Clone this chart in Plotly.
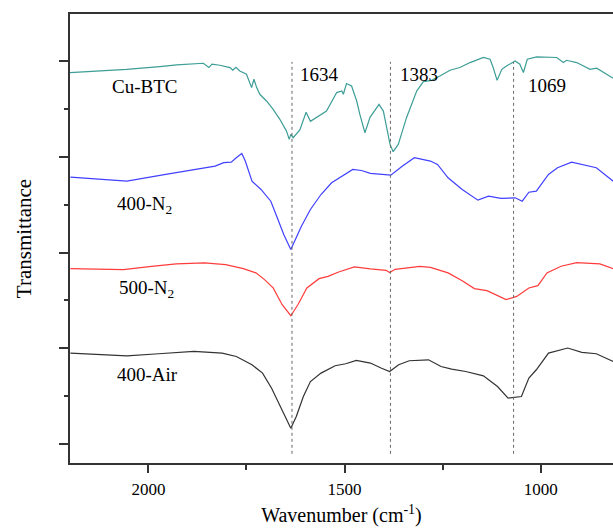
import plotly.graph_objects as go

# ---- data (wavenumber in cm^-1, transmittance in offset arbitrary units) ----
cu_btc_w = [2200, 2056, 1971, 1928, 1860, 1846, 1838, 1818, 1792, 1785, 1777, 1767, 1750, 1737,
            1731, 1724, 1716, 1699, 1682, 1673, 1665, 1648, 1641, 1637, 1631, 1614, 1598, 1587,
            1546, 1520, 1507, 1503, 1495, 1482, 1469, 1461, 1448, 1435, 1422, 1412, 1401, 1392,
            1384, 1376, 1363, 1342, 1316, 1299, 1278, 1257, 1231, 1206, 1180, 1146, 1129, 1121,
            1111, 1099, 1087, 1065, 1053, 1044, 1034, 1010, 959, 942, 934, 908, 874, 857, 815]
cu_btc_t = [3.879, 3.913, 3.941, 3.958, 3.976, 3.931, 3.966, 3.955, 3.931, 3.903, 3.934, 3.895,
            3.861, 3.722, 3.809, 3.722, 3.652, 3.582, 3.495, 3.443, 3.391, 3.268, 3.181, 3.234,
            3.199, 3.281, 3.464, 3.370, 3.477, 3.670, 3.686, 3.652, 3.764, 3.739, 3.582, 3.443,
            3.251, 3.411, 3.495, 3.547, 3.477, 3.307, 3.129, 3.053, 3.129, 3.408, 3.686, 3.785,
            3.798, 3.843, 3.903, 3.931, 3.983, 4.036, 4.018, 3.931, 3.798, 3.913, 3.948, 4.000,
            3.966, 3.879, 4.018, 4.042, 4.036, 3.983, 4.007, 3.983, 3.913, 3.924, 3.819]

n400_w = [2199, 2055, 1956, 1866, 1830, 1808, 1789, 1776, 1762, 1753, 1736, 1713, 1688, 1673,
          1655, 1637, 1627, 1610, 1587, 1560, 1533, 1506, 1479, 1457, 1434, 1382, 1353, 1322,
          1281, 1263, 1236, 1200, 1160, 1133, 1101, 1065, 1047, 1030, 1011, 980, 957, 921, 895,
          858, 815]
n400_t = [2.787, 2.745, 2.816, 2.878, 2.902, 2.938, 2.944, 2.990, 3.035, 2.955, 2.745, 2.659,
          2.536, 2.380, 2.188, 2.031, 2.118, 2.275, 2.450, 2.606, 2.729, 2.798, 2.868, 2.857,
          2.826, 2.808, 2.902, 2.990, 2.955, 2.920, 2.781, 2.659, 2.547, 2.589, 2.565, 2.572,
          2.536, 2.630, 2.641, 2.816, 2.886, 2.944, 2.920, 2.886, 2.745]

n500_w = [2199, 2064, 1992, 1929, 1857, 1803, 1758, 1726, 1704, 1682, 1659, 1637, 1619, 1596,
          1565, 1542, 1515, 1475, 1434, 1394, 1385, 1371, 1308, 1281, 1236, 1200, 1169, 1137,
          1088, 1061, 1030, 1007, 984, 948, 908, 849, 815]
n500_t = [1.833, 1.822, 1.857, 1.882, 1.892, 1.875, 1.833, 1.788, 1.718, 1.631, 1.456, 1.341,
          1.456, 1.631, 1.728, 1.752, 1.798, 1.851, 1.830, 1.815, 1.791, 1.825, 1.857, 1.846,
          1.788, 1.707, 1.624, 1.603, 1.509, 1.543, 1.631, 1.655, 1.788, 1.857, 1.895, 1.882,
          1.833]

air400_w = [2199, 2055, 1974, 1884, 1812, 1776, 1736, 1709, 1686, 1663, 1650, 1637, 1623, 1605,
            1587, 1560, 1524, 1497, 1470, 1434, 1407, 1385, 1362, 1335, 1286, 1254, 1227, 1191,
            1146, 1110, 1083, 1065, 1049, 1030, 1011, 980, 931, 895, 858, 815]
air400_t = [0.951, 0.923, 0.944, 0.968, 0.951, 0.916, 0.829, 0.742, 0.585, 0.393, 0.289, 0.167,
            0.289, 0.498, 0.654, 0.742, 0.819, 0.840, 0.874, 0.847, 0.795, 0.759, 0.829, 0.871,
            0.881, 0.811, 0.784, 0.759, 0.714, 0.602, 0.481, 0.491, 0.498, 0.690, 0.777, 0.951,
            1.004, 0.958, 0.944, 0.864]

marker_peaks = [1634, 1383, 1069]
marker_labels = ["1634", "1383", "1069"]
series_names = ["Cu-BTC", "400-N<sub>2</sub>", "500-N<sub>2</sub>", "400-Air"]

FONT = "Liberation Serif, Times New Roman, serif"
AX = "#333333"

fig = go.Figure()
series = [
    (cu_btc_w, cu_btc_t, "#3c9e96", series_names[0]),
    (n400_w, n400_t, "#4040ff", series_names[1]),
    (n500_w, n500_t, "#ff3c3c", series_names[2]),
    (air400_w, air400_t, "#333333", series_names[3]),
]
for w, t, c, n in series:
    fig.add_trace(go.Scatter(x=w, y=t, mode="lines", name=n,
                             line=dict(color=c, width=1.2), showlegend=False))

# dotted reference lines
for p in marker_peaks:
    fig.add_shape(type="line", xref="x", yref="y", x0=p, x1=p, y0=-0.10, y1=3.99,
                  line=dict(color="#666666", width=1, dash="dot"))

# peak labels
peak_pos = [(1619, 3.86), (1364, 3.86), (1038, 3.74)]
for (x, y), lab in zip(peak_pos, marker_labels):
    fig.add_annotation(x=x, y=y, xref="x", yref="y", text=lab, showarrow=False,
                       xanchor="left", yanchor="middle",
                       font=dict(family=FONT, size=19, color="black"))

# series labels
name_pos = [(2011, 3.73), (2011, 2.50), (2005, 1.62), (2002, 0.725)]
for (x, y), lab in zip(name_pos, series_names):
    fig.add_annotation(x=x, y=y, xref="x", yref="y", text=lab, showarrow=False,
                       xanchor="center", yanchor="middle",
                       font=dict(family=FONT, size=19, color="black"))

fig.update_layout(
    width=613, height=530,
    margin=dict(l=70, r=0, t=14, b=67),
    paper_bgcolor="white", plot_bgcolor="white",
    font=dict(family=FONT, color="black"),
    xaxis=dict(
        range=[2200, 815.5], autorange=False, automargin=False,
        tick0=0, dtick=500, ticks="outside", ticklen=8, tickwidth=1.5, tickcolor=AX,
        showline=True, linecolor=AX, linewidth=2, mirror=True,
        showgrid=False, zeroline=False,
        tickfont=dict(family=FONT, size=17, color="black"),
        ticklabelstandoff=2,
        minor=dict(dtick=250, tick0=0, ticks="outside", ticklen=5, tickwidth=1.5, tickcolor=AX, showgrid=False),
        title=dict(text="Wavenumber (cm<sup>-1</sup>)", standoff=10,
                   font=dict(family=FONT, size=20, color="black")),
    ),
    yaxis=dict(
        range=[-0.196, 4.49], autorange=False, automargin=False,
        tick0=0, dtick=1, ticks="outside", ticklen=9, tickwidth=1.5, tickcolor=AX,
        showticklabels=False,
        showline=True, linecolor=AX, linewidth=2, mirror=False,
        showgrid=False, zeroline=False,
        minor=dict(dtick=0.5, tick0=0, ticks="outside", ticklen=4, tickwidth=1.5, tickcolor=AX, showgrid=False),
        title=dict(text="Transmittance", standoff=22,
                   font=dict(family=FONT, size=21, color="black")),
    ),
)

fig.write_html("out.html",
               config={"displayModeBar": False},
               post_script="document.body.style.margin='0px';document.body.style.overflow='hidden';")
